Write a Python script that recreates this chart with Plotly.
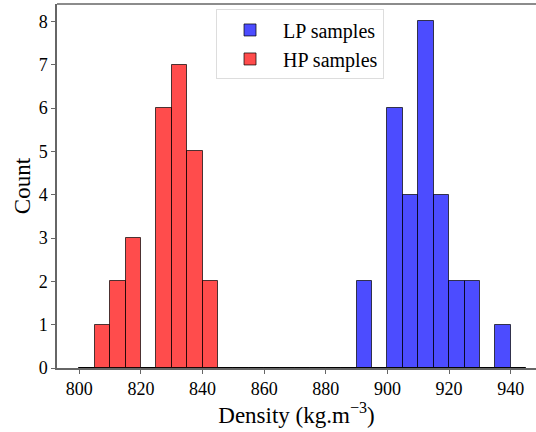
import plotly.graph_objects as go

bin_start = 800
bin_width = 5
n_bins = 29
lp_counts = [0,0,0,0,0,0,0,0,0,0, 0,0,0,0,0,0,0,0,2,0, 6,4,8,4,2,2,0,1,0]
hp_counts = [0,1,2,3,0,6,7,5,2,0, 0,0,0,0,0,0,0,0,0,0, 0,0,0,0,0,0,0,0,0]
centers = [bin_start + bin_width * (i + 0.5) for i in range(n_bins)]

FONT = "Liberation Serif"
edge = "rgba(0,0,0,0.7)"
axis_col = "#666666"

fig = go.Figure()
fig.add_trace(go.Bar(x=centers, y=lp_counts, width=bin_width, name="LP samples",
                     marker=dict(color="rgba(0,0,255,0.7)", line=dict(color=edge, width=1))))
fig.add_trace(go.Bar(x=centers, y=hp_counts, width=bin_width, name="HP samples",
                     marker=dict(color="rgba(255,0,0,0.7)", line=dict(color=edge, width=1))))

fig.update_layout(
    width=536, height=432,
    margin=dict(l=57, r=0, t=4, b=64),
    plot_bgcolor="white", paper_bgcolor="white",
    barmode="overlay", bargap=0,
    font=dict(family=FONT, size=18, color="black"),
    showlegend=True,
    legend=dict(x=0.332, y=0.985, xanchor="left", yanchor="top",
                bordercolor="#dddddd", borderwidth=1, bgcolor="rgba(255,255,255,0.8)",
                font=dict(family=FONT, size=20), tracegroupgap=2, itemwidth=56),
    xaxis=dict(range=[792.75, 948.2], tickmode="array", tickvals=list(range(800, 941, 20)),
               showline=True, linecolor=axis_col, linewidth=1.5, ticks="outside", ticklen=4,
               tickcolor=axis_col, showgrid=False, zeroline=False,
               title=dict(text="Density (kg.m<sup>−3</sup>)", font=dict(size=23), standoff=8),
               tickfont=dict(size=18)),
    yaxis=dict(range=[0, 8.4], tickmode="array", tickvals=list(range(0, 9)),
               showline=True, linecolor=axis_col, linewidth=1.5, ticks="outside", ticklen=4,
               tickcolor=axis_col, showgrid=False, zeroline=False,
               title=dict(text="Count", font=dict(size=23), standoff=2),
               tickfont=dict(size=18)),
    shapes=[dict(type="line", xref="paper", yref="paper", x0=0, x1=1, y0=1, y1=1,
                 line=dict(color=axis_col, width=1.5))],
)

fig.write_html("out.html")
